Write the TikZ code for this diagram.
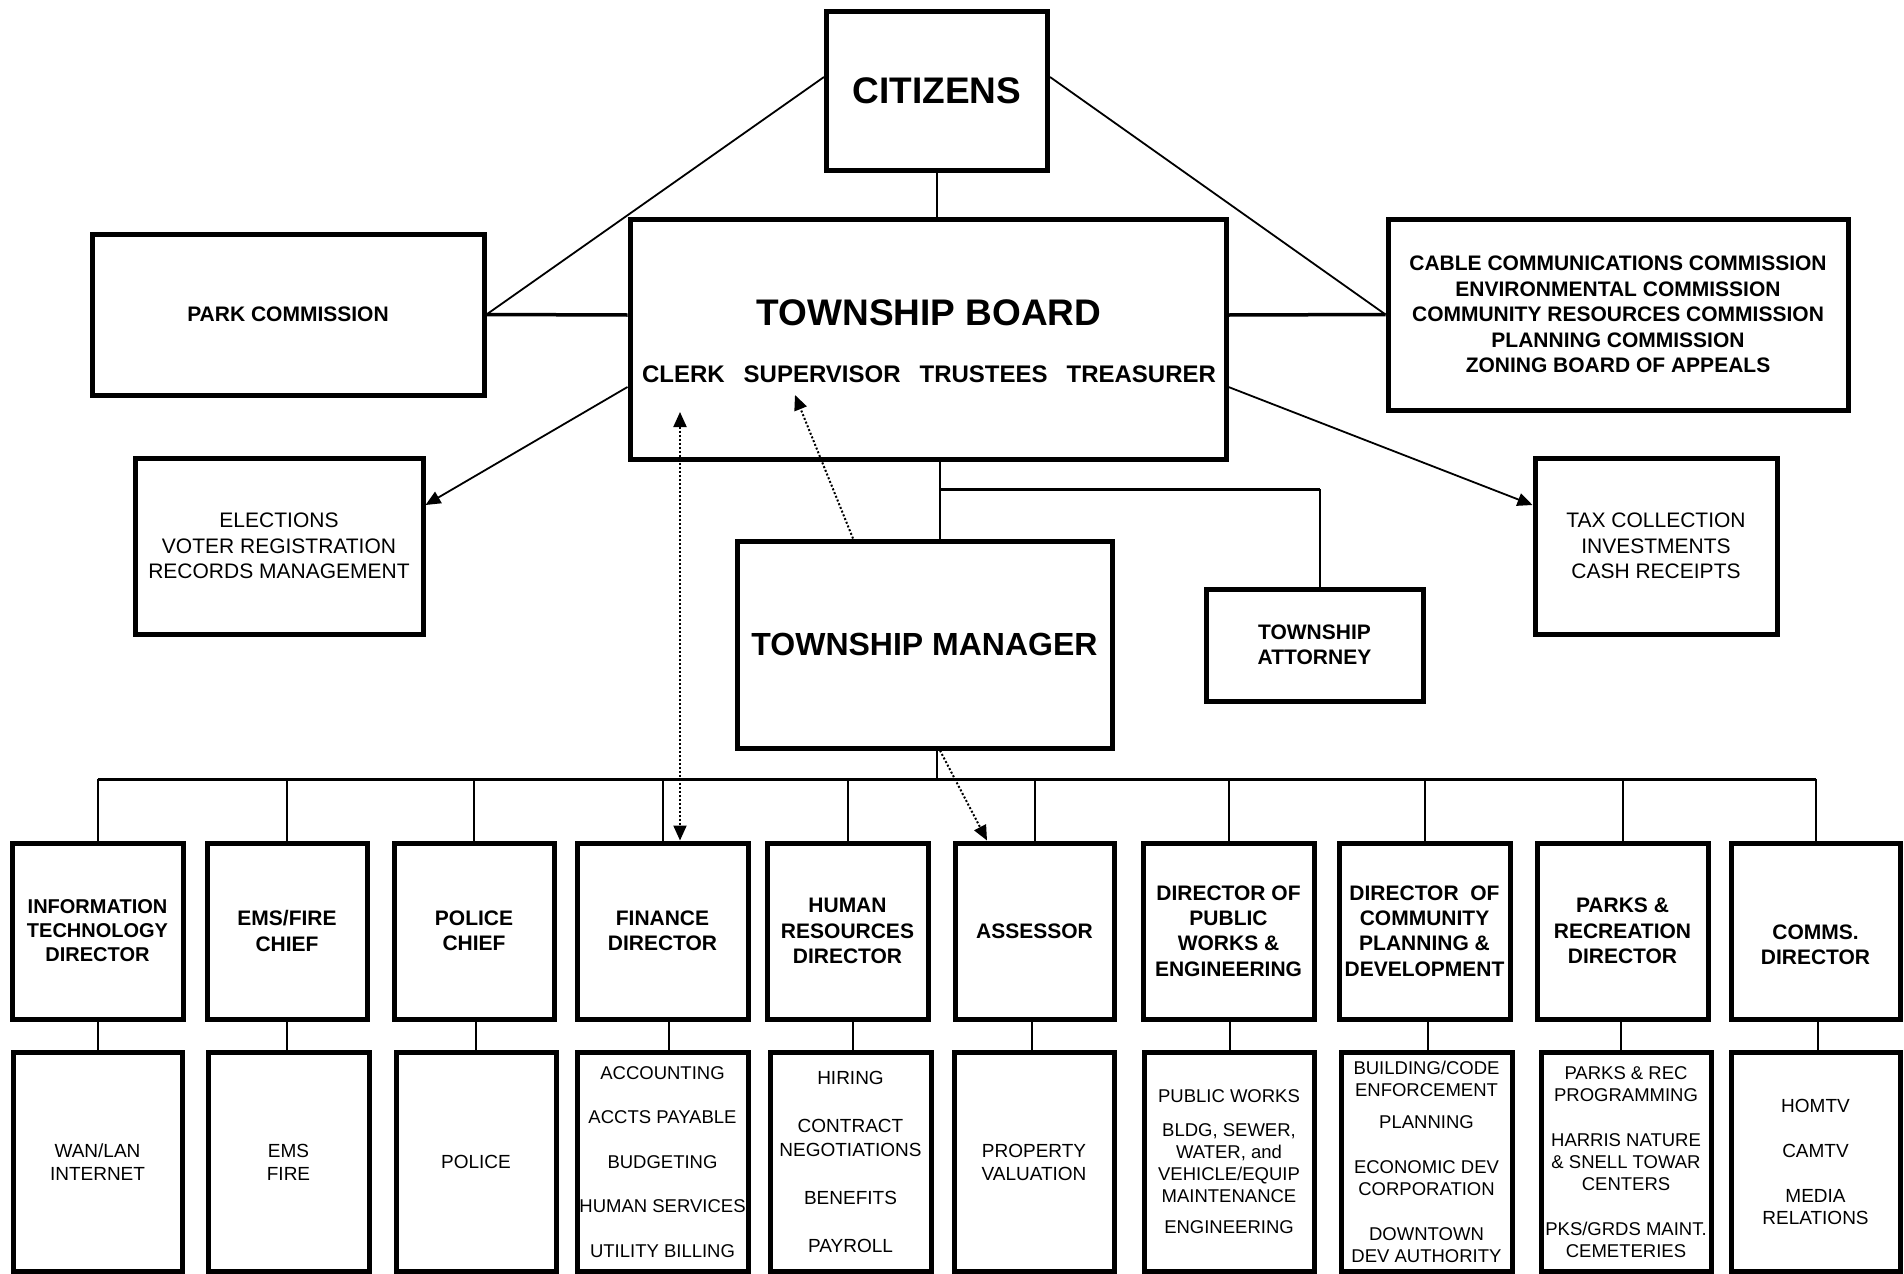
\documentclass[tikz,border=0pt]{standalone}
\usepackage{fontspec}
\setmainfont{Liberation Sans}
\usetikzlibrary{arrows.meta,calc}
\newcommand\fCit{\fontsize{37}{44}\selectfont\bfseries}
\newcommand\fMgr{\fontsize{32}{38}\selectfont\bfseries}
\newcommand\fMem{\fontsize{24}{28}\selectfont\bfseries}
\newcommand\fCom{\fontsize{21}{25.5}\selectfont\bfseries}
\newcommand\fReg{\fontsize{21}{25.5}\selectfont}
\newcommand\fTit{\fontsize{21}{25.3}\selectfont\bfseries}
\newcommand\fTitS{\fontsize{20}{24}\selectfont\bfseries}
\newcommand\fSub{\fontsize{19}{22.5}\selectfont}
\newcommand\fSubS{\fontsize{18.5}{22}\selectfont}
\begin{document}
\begin{tikzpicture}[x=1pt,y=-1pt,
  box/.style={draw, line width=5pt, inner sep=0pt, align=center},
  txt/.style={inner sep=0pt, align=center},
  conn/.style={line width=2pt},
  thick conn/.style={line width=3.5pt},
  diag/.style={line width=1.8pt},
  arr/.style={-{Triangle[length=15pt,width=13pt]}},
  dotline/.style={line width=2pt, dash pattern=on 2pt off 2pt},
  row1/.style={box, minimum height=176, font=\fTit},
  row2/.style={box, minimum height=219, font=\fSub}]
\useasboundingbox (0,0) rectangle (1904,1274);

% top level
\node[box, minimum width=221, minimum height=159, font=\fCit] (cit) at (937,91) {CITIZENS};
\node[box, minimum width=596, minimum height=240] (board) at (928,339) {};
\node[txt, font=\fCit] (boardt) at (929,312.5) {TOWNSHIP BOARD};
\node[txt, font=\fMem] (boardm) at (929,374.5) {CLERK\hspace{19pt}SUPERVISOR\hspace{19pt}TRUSTEES\hspace{19pt}TREASURER};
\node[box, minimum width=392, minimum height=161, font=\fCom] (park) at (288,314.5) {PARK COMMISSION};
\node[box, minimum width=460, minimum height=191, font=\fCom] (comm) at (1618,314.5)
  {CABLE COMMUNICATIONS COMMISSION\\ENVIRONMENTAL COMMISSION\\COMMUNITY RESOURCES COMMISSION\\PLANNING COMMISSION\\ZONING BOARD OF APPEALS};
\node[box, minimum width=288, minimum height=176, font=\fReg] (elec) at (279,546)
  {ELECTIONS\\VOTER REGISTRATION\\RECORDS MANAGEMENT};
\node[box, minimum width=242, minimum height=176, font=\fReg] (tax) at (1656,546)
  {TAX COLLECTION\\INVESTMENTS\\CASH RECEIPTS};
\node[box, minimum width=375, minimum height=207, font=\fMgr] (mgr) at (924.5,644.5) {TOWNSHIP MANAGER};
\node[box, minimum width=217, minimum height=112, font=\fCom] (att) at (1314.5,645) {TOWNSHIP\\ATTORNEY};

% row 1
\node[row1, minimum width=171, font=\fTitS] (r1a) at (97.5,931) {INFORMATION\\TECHNOLOGY\\DIRECTOR};
\node[row1, minimum width=160] (r1b) at (287,931) {EMS/FIRE\\CHIEF};
\node[row1, minimum width=160] (r1c) at (474,931) {POLICE\\CHIEF};
\node[row1, minimum width=171] (r1d) at (662.5,931) {FINANCE\\DIRECTOR};
\node[row1, minimum width=161] (r1e) at (847.5,931) {HUMAN\\RESOURCES\\DIRECTOR};
\node[row1, minimum width=159] (r1f) at (1034.5,931) {ASSESSOR};
\node[row1, minimum width=171] (r1g) at (1228.5,931) {DIRECTOR OF\\PUBLIC\\WORKS \&\\ENGINEERING};
\node[row1, minimum width=171] (r1h) at (1424.5,931) {DIRECTOR\ \ OF\\COMMUNITY\\PLANNING \&\\DEVELOPMENT};
\node[row1, minimum width=171] (r1i) at (1622.5,931) {PARKS \&\\RECREATION\\DIRECTOR};
\node[row1, minimum width=169] (r1j) at (1815.5,931) {};
\node[txt, font=\fTit] (r1jt) at (1815.5,945) {COMMS.\\DIRECTOR};

% row 2
\node[row2, minimum width=169] (r2a) at (97.5,1162) {WAN/LAN\\[0.5pt]INTERNET};
\node[row2, minimum width=161] (r2b) at (288.5,1162) {EMS\\[0.5pt]FIRE};
\node[row2, minimum width=160] (r2c) at (476,1162) {POLICE};
\node[row2, minimum width=171, font=\fSubS] (r2d) at (662.5,1162)
  {ACCOUNTING\\[22.5pt]ACCTS PAYABLE\\[22.5pt]BUDGETING\\[22.5pt]HUMAN SERVICES\\[22.5pt]UTILITY BILLING};
\node[row2, minimum width=161] (r2e) at (850.5,1162)
  {HIRING\\[25.5pt]CONTRACT\\[1.5pt]NEGOTIATIONS\\[25.5pt]BENEFITS\\[25.5pt]PAYROLL};
\node[row2, minimum width=160] (r2f) at (1034,1162) {PROPERTY\\[0.5pt]VALUATION};
\node[row2, minimum width=170, font=\fSubS] (r2g) at (1229,1162)
  {PUBLIC WORKS\\[12pt]BLDG, SEWER,\\WATER, and\\VEHICLE/EQUIP\\MAINTENANCE\\[9pt]ENGINEERING};
\node[row2, minimum width=171, font=\fSubS] (r2h) at (1426.5,1162)
  {BUILDING/CODE\\ENFORCEMENT\\[10pt]PLANNING\\[23pt]ECONOMIC DEV\\CORPORATION\\[23pt]DOWNTOWN\\DEV AUTHORITY};
\node[row2, minimum width=170, font=\fSubS] (r2i) at (1626,1162)
  {PARKS \& REC\\PROGRAMMING\\[23pt]HARRIS NATURE\\\& SNELL TOWAR\\CENTERS\\[23pt]PKS/GRDS MAINT.\\CEMETERIES};
\node[row2, minimum width=169] (r2j) at (1815.5,1162)
  {HOMTV\\[22.5pt]CAMTV\\[22.5pt]MEDIA\\RELATIONS};

% helper coordinates
\coordinate (bus) at (97,779);
\coordinate (brd) at (940,489);
\coordinate (attin) at (1320,589);
\coordinate (clerkpt) at (680,412);
\coordinate (suppt) at (795,395);

% connectors top
\draw[conn] (cit.south) -- (cit.south |- board.north);
\draw[diag] ([yshift=14pt]cit.west) -- (park.east);
\draw[diag] ([yshift=14pt]cit.east) -- (comm.west);
\draw[thick conn] (park.east) -- ([yshift=24pt]board.west);
\draw[thick conn] ([yshift=24pt]board.east) -- (comm.west);
\draw[diag, arr] ([yshift=-48pt]board.west) -- ([yshift=41pt]elec.east);
\draw[diag, arr] ([yshift=-48pt]board.east) -- ([yshift=41pt]tax.west);
\draw[conn] (brd |- board.south) -- (brd |- mgr.north);
\draw[line width=3pt] (brd) -- (brd -| attin);
\draw[conn] (brd -| attin) -- (attin |- att.north);
\draw[conn] (mgr.south -| cit.south) -- (cit.south |- bus);

% bus
\draw[line width=3pt] (r1a.north |- bus) -- (r1j.north |- bus);
\foreach \n in {r1a,r1b,r1c,r1d,r1e,r1f,r1g,r1h,r1i,r1j}{
  \draw[conn] (\n.north |- bus) -- (\n.north);
}
\foreach \a/\b/\s in {r1a/r2a/0,r1b/r2b/0,r1c/r2c/2,r1d/r2d/6,r1e/r2e/5,r1f/r2f/-3,r1g/r2g/1,r1h/r2h/3,r1i/r2i/-2,r1j/r2j/2}{
  \draw[conn] ([xshift=\s pt]\a.south) -- ([xshift=\s pt]\a.south |- \b.north);
}

% dotted arrows
\draw[dotline, {Triangle[length=15pt,width=13pt]}-{Triangle[length=15pt,width=13pt]}] (clerkpt) -- (clerkpt |- r1d.north);
\draw[dotline, arr] ([xshift=-71.5pt]mgr.north) -- (suppt);
\draw[dotline, arr] (brd |- mgr.south) -- ([xshift=-47.5pt]r1f.north);
\end{tikzpicture}
\end{document}
